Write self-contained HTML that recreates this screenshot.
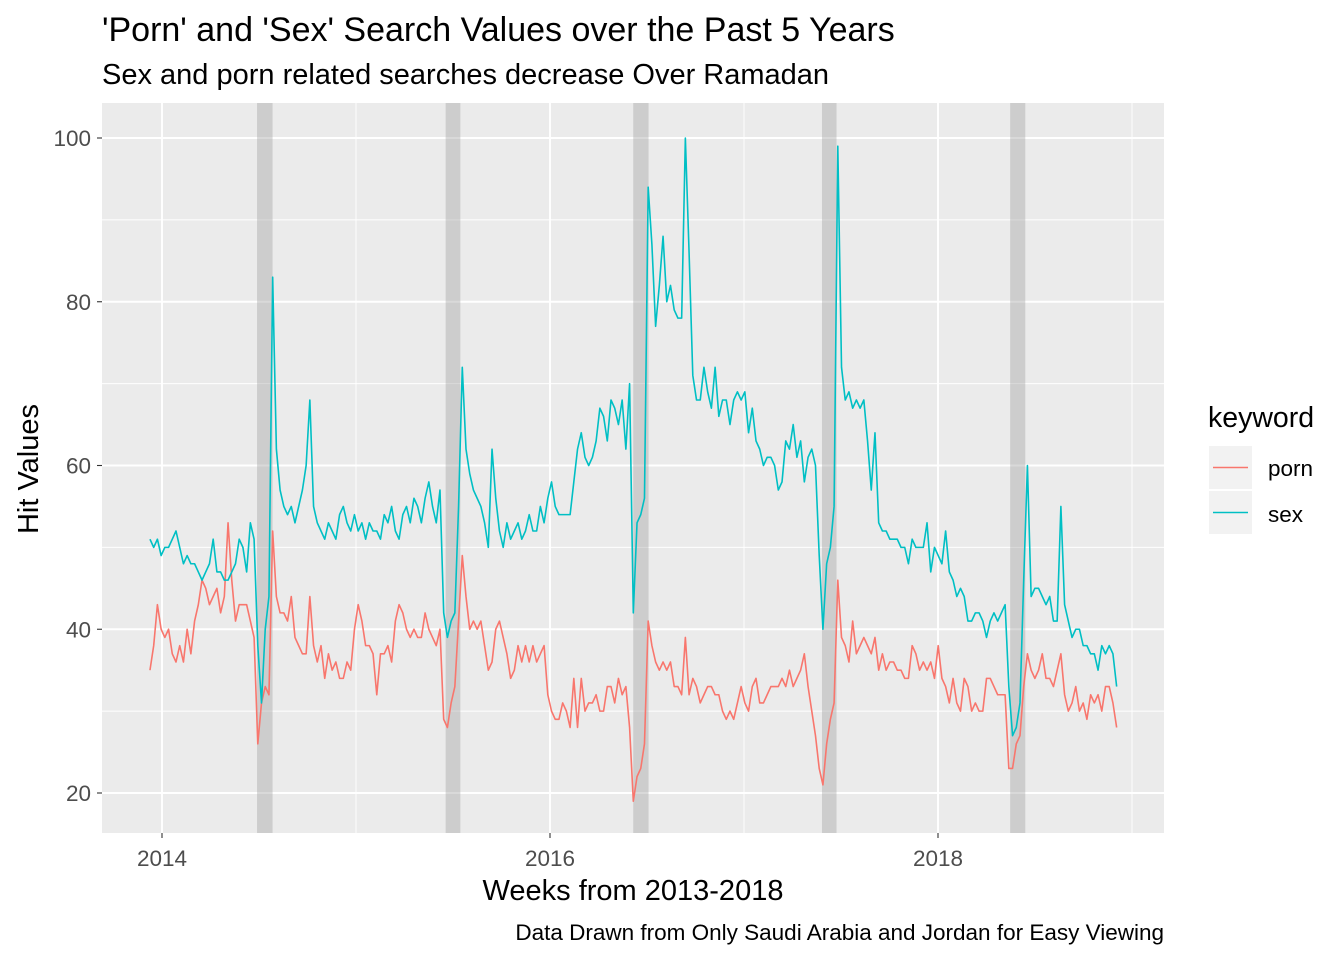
<!DOCTYPE html>
<html><head><meta charset="utf-8"><style>
html,body{margin:0;padding:0;background:#fff;}
svg{display:block;font-family:"Liberation Sans",Arial,sans-serif;}
</style></head><body>
<svg id="chart" width="1344" height="960" viewBox="0 0 1344 960" xmlns="http://www.w3.org/2000/svg">
<rect x="0" y="0" width="1344" height="960" fill="#fff"/>
<text x="102" y="41" font-size="34" fill="#000">'Porn' and 'Sex' Search Values over the Past 5 Years</text>
<text x="102" y="84" font-size="29" fill="#000">Sex and porn related searches decrease Over Ramadan</text>
<rect x="102" y="103" width="1062" height="730" fill="#EBEBEB"/>
<g id="grid"></g>
<g id="bands"></g>
<g id="series"></g>
<g id="axes"></g>
<text x="633" y="900" font-size="29" text-anchor="middle" fill="#000">Weeks from 2013-2018</text>
<text transform="translate(38,469) rotate(-90)" font-size="29" text-anchor="middle" fill="#000">Hit Values</text>
<text x="1164" y="940" font-size="22.5" text-anchor="end" fill="#000">Data Drawn from Only Saudi Arabia and Jordan for Easy Viewing</text>
<g>
<text x="1208" y="427" font-size="28.5" fill="#000">keyword</text>
<rect x="1209" y="446" width="43" height="43" fill="#F2F2F2"/>
<line x1="1213" y1="467.5" x2="1248" y2="467.5" stroke="#F8766D" stroke-width="1.6"/>
<text x="1268" y="476" font-size="22.5" fill="#000">porn</text>
<rect x="1209" y="491" width="43" height="43" fill="#F2F2F2"/>
<line x1="1213" y1="512.5" x2="1248" y2="512.5" stroke="#00BFC4" stroke-width="1.6"/>
<text x="1268" y="522" font-size="22.5" fill="#000">sex</text>
</g>
</svg>
<script>
const startYear = 2013.938;
const sexValues = [
51,50,51,49,50,50,51,52,50,48,
49,48,48,47,46,47,48,51,47,47,
46,46,47,48,51,50,47,53,51,38,
31,40,44,83,62,57,55,54,55,53,
55,57,60,68,55,53,52,51,53,52,
51,54,55,53,52,54,52,53,51,53,
52,52,51,54,53,55,52,51,54,55,
53,56,55,53,56,58,55,53,57,42,
39,41,42,55,72,62,59,57,56,55,
53,50,62,56,52,50,53,51,52,53,
51,52,54,52,52,55,53,56,58,55,
54,54,54,54,58,62,64,61,60,61,
63,67,66,63,68,67,65,68,62,70,
42,53,54,56,94,87,77,82,88,80,
82,79,78,78,100,86,71,68,68,72,
69,67,72,66,68,68,65,68,69,68,
69,64,67,63,62,60,61,61,60,57,
58,63,62,65,61,63,58,61,62,60,
49,40,48,50,55,99,72,68,69,67,
68,67,68,63,57,64,53,52,52,51,
51,51,50,50,48,51,50,50,50,53,
47,50,49,48,52,47,46,44,45,44,
41,41,42,42,41,39,41,42,41,42,
43,33,27,28,31,46,60,44,45,45,
44,43,44,41,41,55,43,41,39,40,
40,38,38,37,37,35,38,37,38,37,
33];
const pornValues = [
35,38,43,40,39,40,37,36,38,36,
40,37,41,43,46,45,43,44,45,42,
44,53,46,41,43,43,43,41,39,26,
31,33,32,52,44,42,42,41,44,39,
38,37,37,44,38,36,38,34,37,35,
36,34,34,36,35,40,43,41,38,38,
37,32,37,37,38,36,41,43,42,40,
39,40,39,39,42,40,39,38,40,29,
28,31,33,41,49,44,40,41,40,41,
38,35,36,40,41,39,37,34,35,38,
36,38,36,38,36,37,38,32,30,29,
29,31,30,28,34,28,34,30,31,31,
32,30,30,33,33,31,34,32,33,28,
19,22,23,26,41,38,36,35,36,35,
36,33,33,32,39,32,34,33,31,32,
33,33,32,32,30,29,30,29,31,33,
31,30,33,34,31,31,32,33,33,33,
34,33,35,33,34,35,37,33,30,27,
23,21,26,29,31,46,39,38,36,41,
37,38,39,38,37,39,35,37,35,36,
36,35,35,34,34,38,37,35,36,35,
36,34,38,34,33,31,34,31,30,34,
33,30,31,30,30,34,34,33,32,32,
32,23,23,26,27,33,37,35,34,35,
37,34,34,33,35,37,32,30,31,33,
30,31,29,32,31,32,30,33,33,31,
28];
const ramadanStarts = [2014.490, 2015.462, 2016.429, 2017.402, 2018.372];
const ramadanEnds   = [2014.570, 2015.538, 2016.508, 2017.477, 2018.450];
const yTicks = [20,40,60,80,100];
const yMinor = [30,50,70,90];
const xTicks = [2014,2016,2018];
const xTickLabels = ["2014","2016","2018"];
const xMinor = [2015,2017,2019];

const NS = "http://www.w3.org/2000/svg";
const PL=102, PR=1164, PT=103, PB=833;
function xs(t){ return 162 + (t-2014)*194; }
function ys(v){ return 793 - (v-20)*(655/80); }
function mk(tag, attrs, parent){ const e=document.createElementNS(NS,tag); for(const k in attrs) e.setAttribute(k,attrs[k]); parent.appendChild(e); return e; }

const grid=document.getElementById('grid');
yMinor.forEach(v=>{ const l=mk('line',{x1:PL,x2:PR,y1:ys(v),y2:ys(v),stroke:'#fff','stroke-width':0.9},grid);

 });
xMinor.forEach(t=>{ const l=mk('line',{x1:xs(t),x2:xs(t),y1:PT,y2:PB,stroke:'#fff','stroke-width':0.9},grid);

 });
yTicks.forEach(v=>{ const l=mk('line',{x1:PL,x2:PR,y1:ys(v),y2:ys(v),stroke:'#fff','stroke-width':1.9},grid);

 });
xTicks.forEach(t=>{ const l=mk('line',{x1:xs(t),x2:xs(t),y1:PT,y2:PB,stroke:'#fff','stroke-width':1.9},grid);

 });

const bands=document.getElementById('bands');
ramadanStarts.forEach((s,i)=>{ const r=mk('rect',{x:xs(s),y:PT,width:xs(ramadanEnds[i])-xs(s),height:PB-PT,fill:'#A0A0A0','fill-opacity':0.4},bands);

 });

const series=document.getElementById('series');
function draw(vals,color,name){
  const pts=vals.map((v,i)=>xs(startYear+i*7/365.25).toFixed(2)+','+ys(v).toFixed(2)).join(' ');
  const p=mk('polyline',{points:pts,fill:'none',stroke:color,'stroke-width':1.6,'stroke-linejoin':'round'},series);
  
  
}
draw(pornValues,'#F8766D','porn-line');
draw(sexValues,'#00BFC4','sex-line');

const axes=document.getElementById('axes');
yTicks.forEach(v=>{
  const t=mk('line',{x1:PL-5,x2:PL,y1:ys(v),y2:ys(v),stroke:'#333','stroke-width':1.1},axes);
  
  
  const tx=mk('text',{x:PL-11,y:ys(v)+8,'font-size':22.5,'text-anchor':'end',fill:'#4D4D4D'},axes);
  tx.textContent=v;
  
  
});
xTicks.forEach((t,i)=>{
  const l=mk('line',{x1:xs(t),x2:xs(t),y1:PB,y2:PB+5,stroke:'#333','stroke-width':1.1},axes);
  
  
  const tx=mk('text',{x:xs(t),y:PB+33,'font-size':22.5,'text-anchor':'middle',fill:'#4D4D4D'},axes);
  tx.textContent=xTickLabels[i];
  
  
});
</script>
</body></html>
